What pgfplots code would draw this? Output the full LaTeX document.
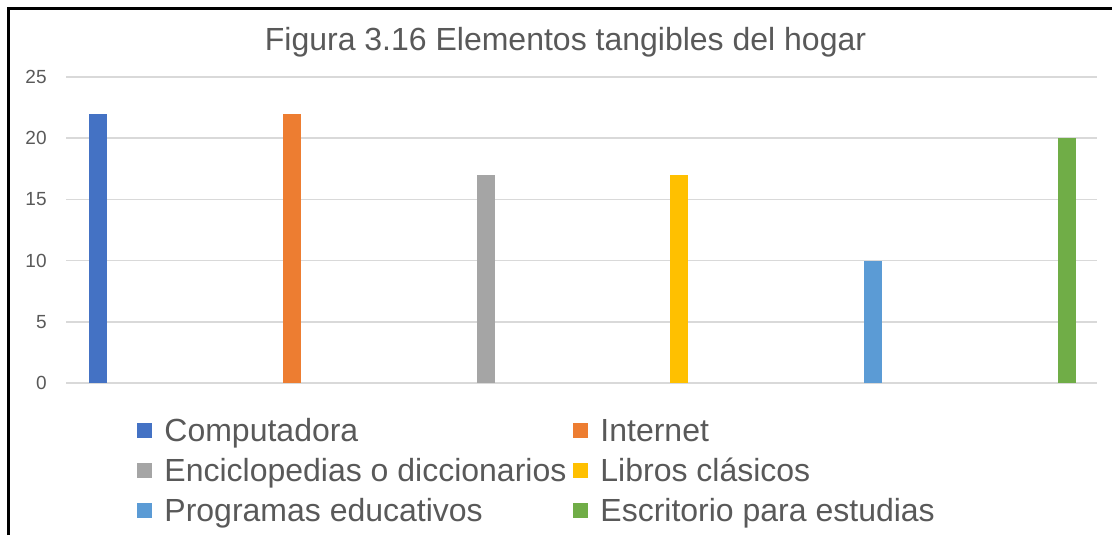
\documentclass[border=0pt]{standalone}
\usepackage{pgfplots}
\pgfplotsset{compat=1.18}
\usepackage{fontspec}
\setmainfont{Liberation Sans}

\definecolor{txt}{HTML}{595959}
\definecolor{gridc}{HTML}{D9D9D9}
\definecolor{c1}{HTML}{4472C4}
\definecolor{c2}{HTML}{ED7D31}
\definecolor{c3}{HTML}{A5A5A5}
\definecolor{c4}{HTML}{FFC000}
\definecolor{c5}{HTML}{5B9BD5}
\definecolor{c6}{HTML}{70AD47}

\begin{document}
\begin{tikzpicture}
  \useasboundingbox (0,0) rectangle (556pt,267.5pt);
  % frame of the screenshot (left and top only)
  \draw[line width=1.5pt] (4pt,0) -- (4pt,263pt) -- (556pt,263pt);
  \node[anchor=base, text=txt, font=\fontsize{16}{19}\selectfont, inner sep=0pt]
    at (282.75pt,242pt) {Figura 3.16 Elementos tangibles del hogar};

  \begin{axis}[
      at={(33pt,76pt)}, anchor=south west,
      scale only axis,
      width=515.5pt, height=153pt,
      ybar, bar width=9pt, bar shift=0pt,
      xmin=-0.165, xmax=5.155,
      ymin=0, ymax=25,
      ytick={0,5,...,25},
      xtick=\empty,
      ymajorgrids,
      grid style={gridc, line width=0.75pt},
      axis line style={draw=none},
      major tick length=0pt,
      /pgf/number format/assume math mode=true,
      yticklabel style={font=\fontsize{9.5}{11}\selectfont, text=txt, inner sep=0pt, anchor=east, xshift=-9.5pt},
      legend columns=2,
      legend cell align=left,
      legend style={draw=none, fill=none, at={(0.0689,-0.119)}, anchor=north west,
        inner sep=0pt, font=\fontsize{16}{19}\selectfont, text=txt,
        nodes={inner sep=0pt, text height=11pt, text depth=3pt},
        row sep=6pt,
        /tikz/every odd column/.append style={column sep=6pt},
        /tikz/every even column/.append style={column sep=3.5pt}},
      legend image code/.code={\fill[#1] (0pt,-2pt) rectangle (7.5pt,5.5pt);},
    ]
    \addplot[fill=c1, draw=none] coordinates {(0,22)};
    \addplot[fill=c2, draw=none] coordinates {(1,22)};
    \addplot[fill=c3, draw=none] coordinates {(2,17)};
    \addplot[fill=c4, draw=none] coordinates {(3,17)};
    \addplot[fill=c5, draw=none] coordinates {(4,10)};
    \addplot[fill=c6, draw=none] coordinates {(5,20)};
    \legend{Computadora, Internet, Enciclopedias o diccionarios, Libros clásicos, Programas educativos, Escritorio para estudias}
  \end{axis}
\end{tikzpicture}
\end{document}
